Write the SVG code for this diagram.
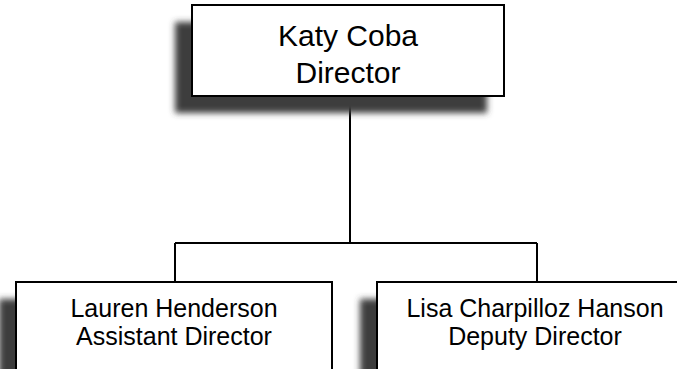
<svg xmlns="http://www.w3.org/2000/svg" width="677" height="369" viewBox="0 0 677 369">
<defs>
<filter id="blur" x="-20%" y="-20%" width="140%" height="140%"><feGaussianBlur stdDeviation="3"/></filter>
<style>
.box{fill:#fff;stroke:#000;stroke-width:2}
.sh{fill:#3c3c3c;filter:url(#blur)}
.t{font-family:"Liberation Sans",Arial,sans-serif;fill:#000;text-anchor:middle}
.conn{fill:none;stroke:#000;stroke-width:2}
</style>
</defs>
<rect width="677" height="369" fill="#fff"/>
<g id="connectors">
<path class="conn" d="M350 96 V243 M175 243 H537 M175 243 V282 M537 243 V282"/>
</g>
<g id="node-katy">
<rect class="sh" x="175" y="22" width="312" height="91"/>
<rect class="box" x="192" y="5" width="312" height="91"/>
<text class="t" x="348" y="46" font-size="30">Katy Coba</text>
<text class="t" x="348" y="83" font-size="30">Director</text>
</g>
<g id="node-lauren">
<rect class="sh" x="-1" y="299" width="316" height="100"/>
<rect class="box" x="16" y="282" width="316" height="100"/>
<text class="t" x="174" y="317" font-size="25">Lauren Henderson</text>
<text class="t" x="174" y="345" font-size="25">Assistant Director</text>
</g>
<g id="node-lisa">
<rect class="sh" x="360" y="299" width="316" height="100"/>
<rect class="box" x="377" y="282" width="316" height="100"/>
<text class="t" x="535" y="317" font-size="25">Lisa Charpilloz Hanson</text>
<text class="t" x="535" y="345" font-size="25">Deputy Director</text>
</g>
</svg>
